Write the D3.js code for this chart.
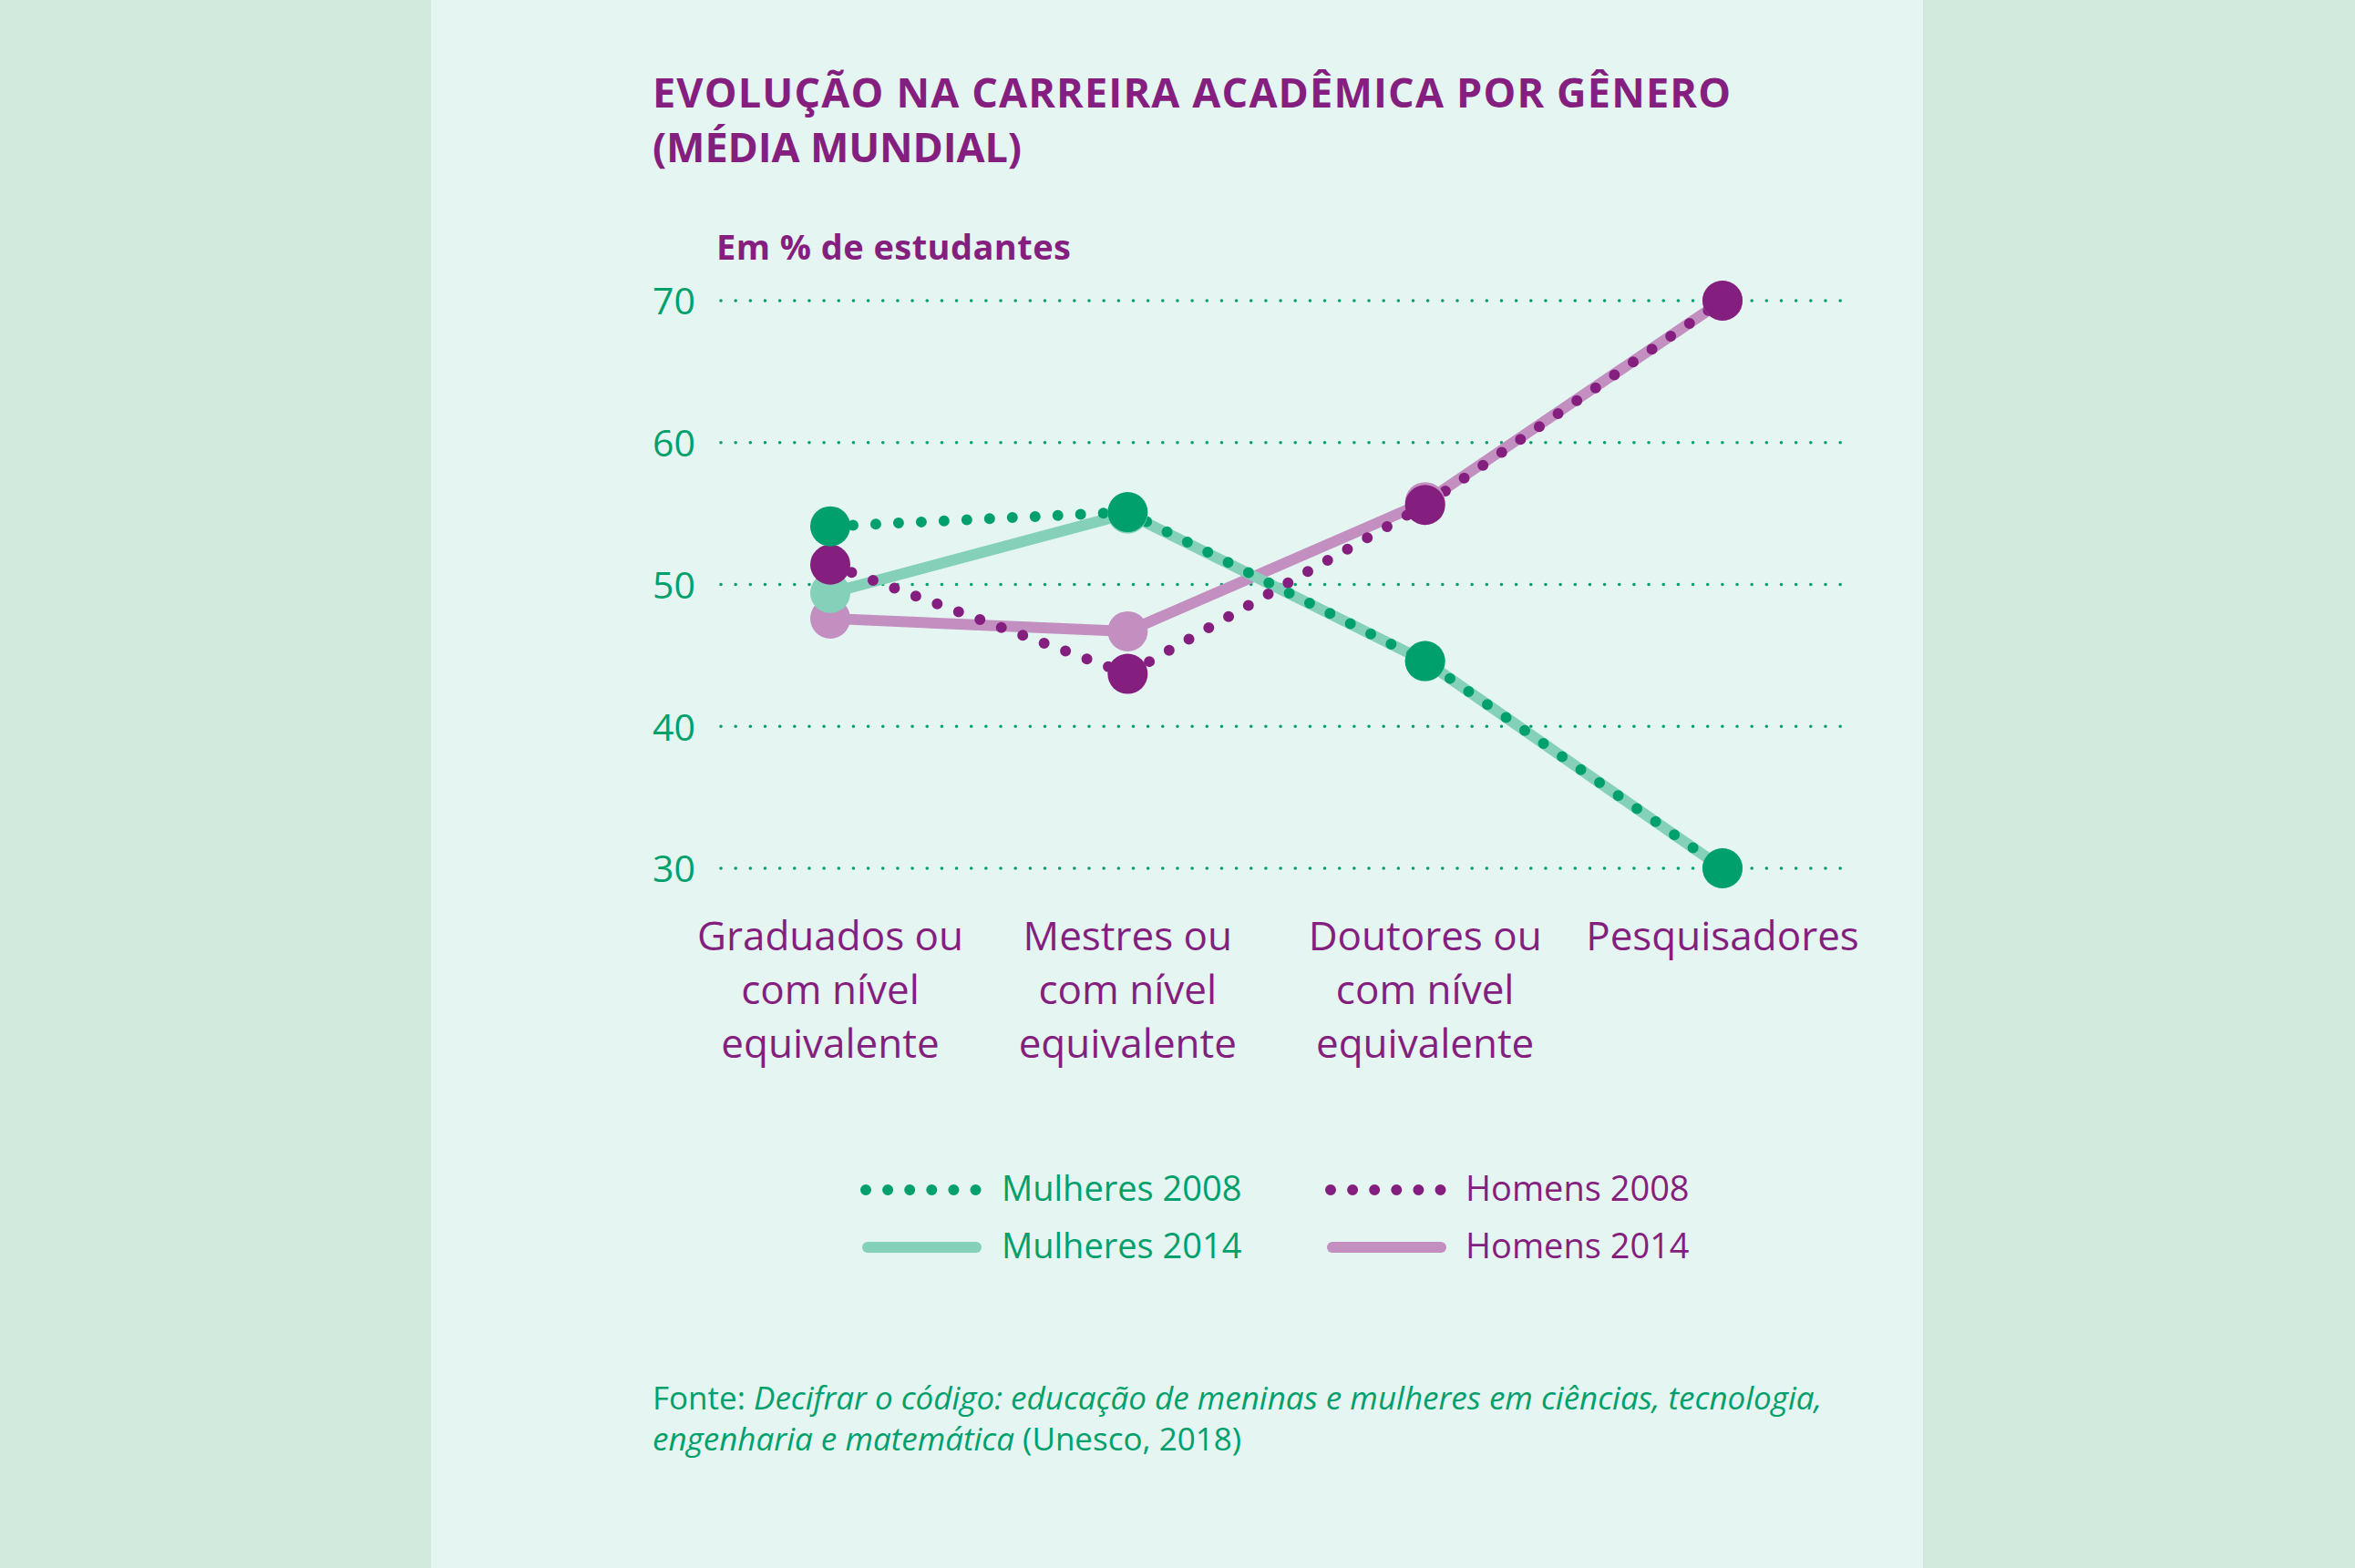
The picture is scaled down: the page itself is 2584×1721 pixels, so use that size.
<!DOCTYPE html>
<html>
<head>
<meta charset="utf-8">
<script src="https://cdn.jsdelivr.net/npm/d3@7"></script>
<style>
  html, body { margin: 0; padding: 0; background: #d2e9dd; }
  svg { display: block; }
  text { font-family: "Open Sans", Roboto, sans-serif; }
</style>
</head>
<body>
<svg id="chart" width="2584" height="1721"></svg>
<script>
// ---------- data ----------
const categories = [
  ["Graduados ou", "com nível", "equivalente"],
  ["Mestres ou", "com nível", "equivalente"],
  ["Doutores ou", "com nível", "equivalente"],
  ["Pesquisadores"]
];
const categoryKeys = ["Graduados", "Mestres", "Doutores", "Pesquisadores"];
const mulheres2008 = [54.1, 55.1, 44.6, 30];
const mulheres2014 = [49.4, 55.0, 44.6, 30];
const homens2008 = [51.4, 43.7, 55.6, 70];
const homens2014 = [47.6, 46.7, 55.8, 70];
const yTicks = [30, 40, 50, 60, 70];
const titleLines = ["EVOLUÇÃO NA CARREIRA ACADÊMICA POR GÊNERO", "(MÉDIA MUNDIAL)"];
const unitLabel = "Em % de estudantes";
const legendItems = [
  { name: "Mulheres 2008", key: "m08" },
  { name: "Homens 2008", key: "h08" },
  { name: "Mulheres 2014", key: "m14" },
  { name: "Homens 2014", key: "h14" }
];

// ---------- styles ----------
const C = {
  outer: "#d2e9dd", panel: "#e5f5f1",
  green: "#00a06c", lightGreen: "#84d0b9",
  purple: "#841f7f", lightPurple: "#c28fc0"
};
const seriesStyle = {
  m08: { data: mulheres2008, color: C.green, dotted: true, text: C.green },
  m14: { data: mulheres2014, color: C.lightGreen, dotted: false, text: C.green },
  h08: { data: homens2008, color: C.purple, dotted: true, text: C.purple },
  h14: { data: homens2014, color: C.lightPurple, dotted: false, text: C.purple }
};

const svg = d3.select("#chart");
svg.append("rect").attr("x", 0).attr("y", 0).attr("width", 2584).attr("height", 1721).attr("fill", C.outer);
svg.append("rect").attr("x", 473).attr("y", 0).attr("width", 1637).attr("height", 1721).attr("fill", C.panel);

// title
const titleWidths = [1183, 405];
svg.selectAll("text.title").data(titleLines).enter().append("text")
  .attr("class", "title")
  .attr("x", 716).attr("y", (d, i) => 118 + i * 60)
  .attr("fill", C.purple).attr("font-size", 45).attr("font-weight", 700)
  .attr("textLength", (d, i) => titleWidths[i]).attr("lengthAdjust", "spacing")
  .text(d => d);

svg.append("text").attr("x", 786).attr("y", 285)
  .attr("fill", C.purple).attr("font-size", 38).attr("font-weight", 700)
  .attr("textLength", 389).attr("lengthAdjust", "spacing")
  .text(unitLabel);

// scales
const x = d3.scalePoint().domain(categoryKeys).range([911, 1890]);
const y = d3.scaleLinear().domain([30, 70]).range([953, 330]);

// grid
const grid = svg.append("g");
grid.selectAll("line").data(yTicks).enter().append("line")
  .attr("x1", 791).attr("x2", 2021)
  .attr("y1", d => y(d)).attr("y2", d => y(d))
  .attr("stroke", C.green).attr("stroke-width", 3.6)
  .attr("stroke-linecap", "round").attr("stroke-dasharray", "0 16.16");

// y axis labels via d3 axis
const yAxis = d3.axisLeft(y).tickValues(yTicks).tickSize(0).tickPadding(0);
const yg = svg.append("g").attr("transform", "translate(763,0)").call(yAxis);
yg.select(".domain").remove();
yg.selectAll("text").attr("fill", C.green).attr("font-size", 41)
  .attr("font-family", "Roboto, sans-serif").attr("dy", "0.36em");

// x axis labels
const xg = svg.append("g");
categories.forEach((lines, i) => {
  const t = xg.append("text").attr("text-anchor", "middle")
    .attr("fill", C.purple).attr("font-size", 44);
  lines.forEach((l, j) => {
    t.append("tspan").attr("x", x(categoryKeys[i])).attr("y", 1043 + j * 59).text(l);
  });
});

// lines
const lineGen = d3.line().x((d, i) => x(categoryKeys[i])).y(d => y(d));
function drawLine(key) {
  const s = seriesStyle[key];
  const p = svg.append("path").datum(s.data).attr("d", lineGen)
    .attr("fill", "none").attr("stroke", s.color)
    .attr("stroke-linecap", "round").attr("stroke-linejoin", "round")
    .attr("stroke-width", 12);
  if (s.dotted) p.attr("stroke-dasharray", "0 25");
}
["h14", "m14", "h08", "m08"].forEach(drawLine);

// points
["h14", "m14", "h08", "m08"].forEach(key => {
  const s = seriesStyle[key];
  svg.append("g").selectAll("circle").data(s.data).enter().append("circle")
    .attr("cx", (d, i) => x(categoryKeys[i])).attr("cy", d => y(d))
    .attr("r", 22).attr("fill", s.color);
});

// legend
const legendPos = [
  { x: 950, y: 1306, tx: 1099 }, { x: 1460, y: 1306, tx: 1608 },
  { x: 950, y: 1369, tx: 1099 }, { x: 1460, y: 1369, tx: 1608 }
];
legendItems.forEach((it, i) => {
  const s = seriesStyle[it.key];
  const p = legendPos[i];
  const g = svg.append("g");
  if (s.dotted) {
    g.append("line").attr("x1", p.x).attr("x2", p.x + 122).attr("y1", p.y).attr("y2", p.y)
      .attr("stroke", s.color).attr("stroke-width", 12).attr("stroke-linecap", "round")
      .attr("stroke-dasharray", "0 24.1");
  } else {
    g.append("line").attr("x1", p.x + 2).attr("x2", p.x + 121).attr("y1", p.y).attr("y2", p.y)
      .attr("stroke", s.color).attr("stroke-width", 12).attr("stroke-linecap", "round");
  }
  g.append("text").attr("x", p.tx).attr("y", p.y + 12).attr("fill", s.text)
    .attr("font-size", 38).text(it.name);
});

// source
const src = svg.append("text").attr("fill", C.green).attr("font-size", 35);
const l1 = src.append("tspan").attr("x", 716).attr("y", 1547);
l1.append("tspan").text("Fonte: ");
l1.append("tspan").attr("font-style", "italic").text("Decifrar o código: educação de meninas e mulheres em ciências, tecnologia,");
const l2 = src.append("tspan").attr("x", 716).attr("y", 1592);
l2.append("tspan").attr("font-style", "italic").text("engenharia e matemática");
l2.append("tspan").text(" (Unesco, 2018)");
</script>
</body>
</html>
